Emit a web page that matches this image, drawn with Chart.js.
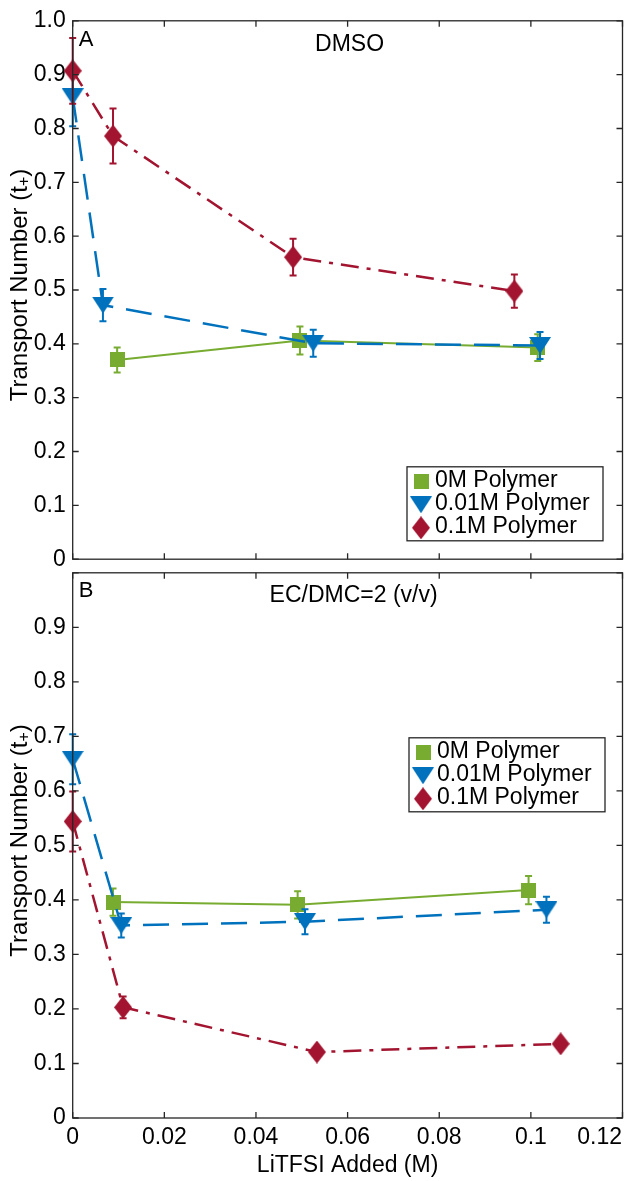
<!DOCTYPE html>
<html>
<head>
<meta charset="utf-8">
<script src="https://cdn.jsdelivr.net/npm/chart.js@4.4.1/dist/chart.umd.min.js"></script>
<style>
  body { margin: 0; background: #fff; }
  #wrap { position: relative; width: 629px; height: 1181px; }
  canvas { position: absolute; left: 0; }
  #top { top: 0; z-index: 2; }
  #bottom { top: 552px; z-index: 1; }
</style>
</head>
<body>
<div id="wrap">
  <canvas id="top" width="629" height="580"></canvas>
  <canvas id="bottom" width="629" height="629"></canvas>
</div>
<script>
// ---- data ----
const xTicks = [0, 0.02, 0.04, 0.06, 0.08, 0.1, 0.12];
const xTickLabels = ["0", "0.02", "0.04", "0.06", "0.08", "0.1", "0.12"];
const seriesNames = ["0M Polymer", "0.01M Polymer", "0.1M Polymer"];

// Panel A - DMSO
const dmsoX0 = [0.0097, 0.0496, 0.1015];
const dmsoY0 = [0.370, 0.406, 0.393];
const dmsoE0 = [0.023, 0.026, 0.025];
const dmsoX1 = [0, 0.0066, 0.0525, 0.1020];
const dmsoY1 = [0.859, 0.472, 0.401, 0.397];
const dmsoE1 = [0.055, 0.030, 0.025, 0.025];
const dmsoX2 = [0, 0.0088, 0.0481, 0.0964];
const dmsoY2 = [0.907, 0.786, 0.561, 0.498];
const dmsoE2 = [0.061, 0.051, 0.034, 0.031];

// Panel B - EC/DMC
const ecX0 = [0.0088, 0.0491, 0.0995];
const ecY0 = [0.396, 0.391, 0.418];
const ecE0 = [0.025, 0.025, 0.026];
const ecX1 = [0, 0.0106, 0.0507, 0.1034];
const ecY1 = [0.658, 0.353, 0.360, 0.382];
const ecE1 = [0.046, 0.022, 0.023, 0.024];
const ecX2 = [0, 0.0110, 0.0533, 0.1065];
const ecY2 = [0.544, 0.203, 0.121, 0.136];
const ecE2 = [0.055, 0.020, 0.008, 0.008];

// ---- styles ----
const fontFamily = "'Liberation Sans', Arial, Helvetica, sans-serif";
const axisColor = "#262626";
const green = "#77AC30", blue = "#0072BD", red = "#A2142F";

function makeMarker(shape, color, w, h) {
  const c = document.createElement("canvas");
  c.width = w; c.height = h;
  const g = c.getContext("2d");
  g.fillStyle = color;
  g.beginPath();
  if (shape === "square") {
    g.rect(0, 0, w, h);
  } else if (shape === "triangle") {
    g.moveTo(0, 0); g.lineTo(w, 0); g.lineTo(w / 2, h);
  } else {
    g.moveTo(w / 2, 0); g.lineTo(w, h / 2); g.lineTo(w / 2, h); g.lineTo(0, h / 2);
  }
  g.closePath();
  g.fill();
  return c;
}
const squareMk = makeMarker("square", green, 15, 15);
const triMk = makeMarker("triangle", blue, 22, 17);
const diaMk = makeMarker("diamond", red, 18, 23);

function series(label, xs, ys, errs, color, marker, dash, width, order) {
  return {
    label: label,
    data: xs.map((x, i) => ({ x: x, y: ys[i] })),
    errors: errs,
    borderColor: color,
    backgroundColor: color,
    borderWidth: width,
    borderDash: dash,
    pointStyle: marker,
    showLine: true,
    tension: 0,
    clip: false,
    order: order
  };
}

// error bars drawn under each series' markers
const errorBars = {
  id: "errorBars",
  beforeDatasetDraw(chart, args) {
    const ds = chart.data.datasets[args.index];
    if (!ds.errors) return;
    const ctx = chart.ctx, xs = chart.scales.x, ys = chart.scales.y;
    ctx.save();
    ctx.strokeStyle = ds.borderColor;
    ctx.lineWidth = 2;
    ctx.setLineDash([]);
    ctx.beginPath();
    ds.data.forEach((p, i) => {
      const e = ds.errors[i];
      const px = xs.getPixelForValue(p.x);
      const t = ys.getPixelForValue(p.y + e), b = ys.getPixelForValue(p.y - e);
      ctx.moveTo(px, t); ctx.lineTo(px, b);
      ctx.moveTo(px - 3.5, t); ctx.lineTo(px + 3.5, t);
      ctx.moveTo(px - 3.5, b); ctx.lineTo(px + 3.5, b);
    });
    ctx.stroke();
    ctx.restore();
  }
};

// box, inward ticks, x labels, y title, panel texts, legend
const frame = {
  id: "frame",
  afterDraw(chart, args, opts) {
    const ctx = chart.ctx, a = chart.chartArea;
    const xs = chart.scales.x, ys = chart.scales.y;
    ctx.save();
    ctx.strokeStyle = axisColor;
    ctx.lineWidth = 1.3;
    ctx.setLineDash([]);
    ctx.strokeRect(a.left, a.top, a.right - a.left, a.bottom - a.top);
    ctx.beginPath();
    xTicks.forEach(v => {
      const px = xs.getPixelForValue(v);
      ctx.moveTo(px, a.bottom); ctx.lineTo(px, a.bottom - 6);
      ctx.moveTo(px, a.top); ctx.lineTo(px, a.top + 6);
    });
    ys.ticks.forEach(t => {
      const py = ys.getPixelForValue(t.value);
      ctx.moveTo(a.left, py); ctx.lineTo(a.left + 6, py);
      ctx.moveTo(a.right, py); ctx.lineTo(a.right - 6, py);
    });
    ctx.stroke();

    ctx.fillStyle = "#000";
    ctx.font = "23px " + fontFamily;
    ctx.textBaseline = "middle";

    // x tick labels + title (bottom panel only)
    if (opts.xLabels) {
      ctx.textAlign = "center";
      xTicks.forEach((v, i) => {
        let px = xs.getPixelForValue(v);
        const w = ctx.measureText(xTickLabels[i]).width;
        px = Math.min(px, chart.width - 7 - w / 2);
        ctx.fillText(xTickLabels[i], px, a.bottom + 20);
      });
      ctx.fillText("LiTFSI Added (M)", (a.left + a.right) / 2, a.bottom + 48);
    }

    // y title with subscript
    ctx.save();
    ctx.translate(20, (a.top + a.bottom) / 2 - 5);
    ctx.rotate(-Math.PI / 2);
    ctx.textAlign = "left";
    ctx.font = "24px " + fontFamily;
    const main = "Transport Number (t";
    const w1 = ctx.measureText(main).width;
    const w3 = ctx.measureText(")").width;
    ctx.font = "16px " + fontFamily;
    const w2 = ctx.measureText("+").width;
    const start = -(w1 + w2 + w3) / 2;
    ctx.font = "24px " + fontFamily;
    ctx.fillText(main, start, 0);
    ctx.fillText(")", start + w1 + w2, 0);
    ctx.font = "16px " + fontFamily;
    ctx.fillText("+", start + w1, 5);
    ctx.restore();

    // panel letter and solvent
    ctx.font = "22px " + fontFamily;
    ctx.textAlign = "left";
    ctx.fillText(opts.letter, a.left + 6, a.top + opts.letterDy);
    ctx.font = "23px " + fontFamily;
    ctx.textAlign = "center";
    ctx.fillText(opts.solvent, (a.left + a.right) / 2 + opts.solventDx, a.top + opts.solventDy);

    // legend
    const L = opts.legend;
    const lx = L.x, ly = a.top + L.dy;
    ctx.fillStyle = "#fff";
    ctx.fillRect(lx, ly, 196, 74);
    ctx.strokeStyle = axisColor;
    ctx.lineWidth = 1.3;
    ctx.strokeRect(lx, ly, 196, 74);
    ctx.textAlign = "left";
    ctx.font = "23px " + fontFamily;
    chart.data.datasets.forEach((ds, i) => {
      const ry = ly + 14 + i * 23;
      const mk = ds.pointStyle;
      ctx.drawImage(mk, lx + 14 - mk.width / 2, ry - mk.height / 2 + 1);
      ctx.fillStyle = "#000";
      ctx.fillText(ds.label, lx + 28, ry);
    });
    ctx.restore();
  }
};

function makeChart(id, sets, opts, padBottom, hideTop) {
  return new Chart(document.getElementById(id), {
    type: "scatter",
    data: {
      datasets: [
        series(seriesNames[0], sets[0][0], sets[0][1], sets[0][2], green, squareMk, [], 2, 3),
        series(seriesNames[1], sets[1][0], sets[1][1], sets[1][2], blue, triMk, [26, 13], 2.5, 2),
        series(seriesNames[2], sets[2][0], sets[2][1], sets[2][2], red, diaMk, [18, 8, 4, 8], 2.5, 1)
      ]
    },
    options: {
      responsive: false,
      animation: false,
      layout: { padding: { top: 14, right: 5.5, bottom: padBottom, left: 0 } },
      plugins: { legend: { display: false }, tooltip: { enabled: false }, frame: opts },
      scales: {
        x: { type: "linear", min: 0, max: 0.12, display: false },
        y: {
          min: 0, max: 1,
          afterFit(scale) { scale.width = 72.7; },
          border: { display: false },
          grid: { display: false, drawTicks: false },
          ticks: {
            stepSize: 0.1,
            padding: 7,
            color: "#000",
            font: { family: fontFamily, size: 23 },
            callback: v => (v === 0 ? "0" : (hideTop && v > 0.95 ? "" : v.toFixed(1)))
          }
        }
      }
    },
    plugins: [errorBars, frame]
  });
}

makeChart("top",
  [[dmsoX0, dmsoY0, dmsoE0], [dmsoX1, dmsoY1, dmsoE1], [dmsoX2, dmsoY2, dmsoE2]],
  { xLabels: false, letter: "A", letterDy: 19, solvent: "DMSO", solventDx: 2, solventDy: 24,
    legend: { x: 407, dy: 446 } },
  14, false);

makeChart("bottom",
  [[ecX0, ecY0, ecE0], [ecX1, ecY1, ecE1], [ecX2, ecY2, ecE2]],
  { xLabels: true, letter: "B", letterDy: 18, solvent: "EC/DMC=2 (v/v)", solventDx: 6, solventDy: 23,
    legend: { x: 409, dy: 165 } },
  63, true);
</script>
</body>
</html>
